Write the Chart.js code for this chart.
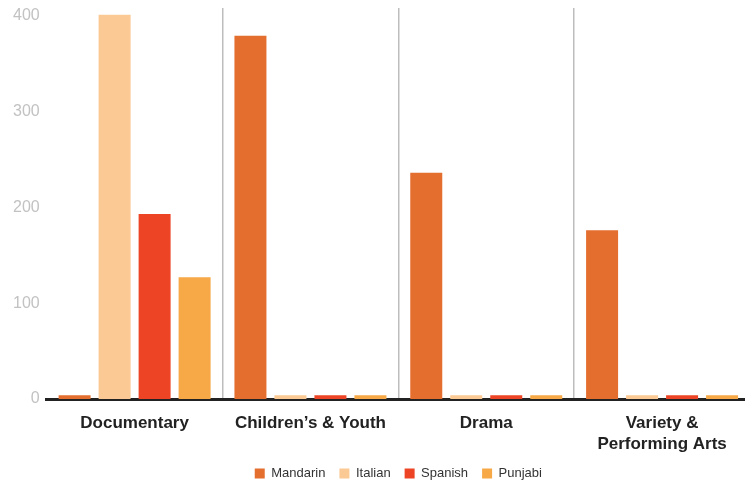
<!DOCTYPE html>
<html>
<head>
<meta charset="utf-8">
<script src="https://cdn.jsdelivr.net/npm/chart.js@4"></script>
<style>
  html, body { margin: 0; padding: 0; background: #fff; overflow: hidden; }
  #wrap { width: 750px; height: 484px; }
</style>
</head>
<body>
<div id="wrap"><canvas id="chart" width="750" height="484"></canvas></div>
<script>
// categorias y valores
const categorias = ["Documentary", "Children\u2019s & Youth", "Drama", ["Variety &", "Performing Arts"]];
const mandarin = [4, 379, 236, 176];
const italian = [401, 4, 4, 4];
const spanish = [193, 4, 4, 4];
const punjabi = [127, 4, 4, 4];
const yTicks = [0, 100, 200, 300, 400];

const colores = {
    mandarin: "#E46E2E",
    italian: "#FBC994",
    spanish: "#EE4426",
    punjabi: "#F7A847"
};

const sans = "'Liberation Sans', Arial, sans-serif";

// legend centered over the plot area, not the whole canvas
const legendShift = {
    id: "legendShift",
    afterLayout(chart) {
        chart.legend.left = chart.chartArea.left;
        chart.legend.right = chart.chartArea.right;
    }
};

const myChart = document.getElementById("chart");

const config = {
    type: "bar",
    data: {
        labels: categorias,
        datasets: [
            { label: "Mandarin", data: mandarin, backgroundColor: colores.mandarin },
            { label: "Italian", data: italian, backgroundColor: colores.italian },
            { label: "Spanish", data: spanish, backgroundColor: colores.spanish },
            { label: "Punjabi", data: punjabi, backgroundColor: colores.punjabi }
        ]
    },
    options: {
        responsive: false,
        animation: false,
        layout: { padding: { top: 8, left: 6, right: 0, bottom: 0 } },
        datasets: {
            bar: { categoryPercentage: 0.91, barPercentage: 0.8 }
        },
        plugins: {
            legend: {
                position: "bottom",
                maxHeight: 31,
                labels: {
                    boxWidth: 10,
                    boxHeight: 10,
                    padding: 14,
                    color: "#333",
                    font: { family: sans, size: 13 }
                }
            },
            tooltip: { enabled: false }
        },
        scales: {
            x: {
                afterFit: (axis) => {
                    axis.height = 54;
                },
                grid: {
                    offset: true,
                    drawTicks: false,
                    lineWidth: 1.5,
                    color: (ctx) => (ctx.index > 0 && ctx.index < categorias.length) ? "#bdbdbd" : "rgba(0,0,0,0)"
                },
                border: { color: "#222", width: 3 },
                ticks: {
                    color: "#222",
                    padding: 14,
                    maxRotation: 0,
                    autoSkip: false,
                    font: { family: sans, size: 17, weight: "bold", lineHeight: 1.235 }
                }
            },
            y: {
                min: 0,
                max: 408,
                afterBuildTicks: (axis) => {
                    axis.ticks = yTicks.map((v) => ({ value: v }));
                },
                afterFit: (axis) => {
                    axis.paddingTop = 0;
                    axis.paddingBottom = 0;
                },
                grid: { display: false, drawTicks: false },
                border: { display: false },
                ticks: {
                    color: "#c2c2c2",
                    padding: 7,
                    font: { family: sans, size: 16 }
                }
            }
        }
    },
    plugins: [legendShift]
};

new Chart(myChart, config);
</script>
</body>
</html>
